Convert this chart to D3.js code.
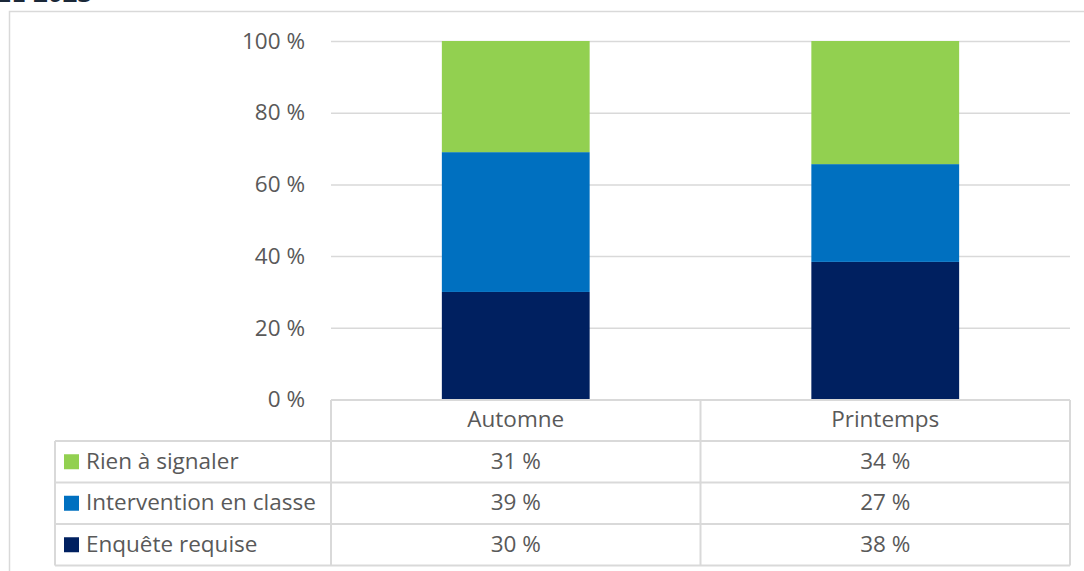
<!DOCTYPE html>
<html>
<head>
    <meta charset="utf-8">
    <style>
        body { margin: 0; background: #fff; }
        svg text {
            font-family: "Open Sans", sans-serif;
            fill: #595959;
        }
        .grid line { stroke: #d9d9d9; stroke-width: 1.5; }
        .grid .domain { display: none; }
        .yaxis .domain, .yaxis line { display: none; }
        .yaxis text { font-size: 22.5px; }
        .tbl line { stroke: #d9d9d9; stroke-width: 2; }
        .tbl text { font-size: 22.5px; }
        .title { font-weight: bold; font-size: 26px; fill: #1b2838; }
    </style>
    <script src="https://d3js.org/d3.v7.min.js"></script>
</head>
<body>
    <svg width="1084" height="571"></svg>
    <script>
        // data
        var seasons = ["Automne", "Printemps"];
        var seriesNames = ["Rien à signaler", "Intervention en classe", "Enquête requise"];
        var rien = [31, 34];
        var intervention = [39, 27];
        var enquete = [30, 38];
        var yTicks = [0, 20, 40, 60, 80, 100];
        var colors = ["#92d050", "#0070c0", "#002060"];

        var svg = d3.select("svg");

        // cut-off title at the very top
        svg.append("text").attr("class", "title")
           .attr("x", -3).attr("y", 2).text("ÉE 2023");

        // outer frame of the chart
        svg.append("path")
           .attr("d", "M9.5,571 V11.5 H1084")
           .attr("fill", "none").attr("stroke", "#d9d9d9").attr("stroke-width", 1.5);

        var plotLeft = 331, plotRight = 1070, plotTop = 41, plotBottom = 399.5;

        var x = d3.scaleBand().domain(seasons).range([plotLeft, plotRight])
                  .paddingInner(0.6).paddingOuter(0.3);
        var y = d3.scaleLinear().domain([0, 100]).range([plotBottom, plotTop]);

        var rows = seasons.map(function(s, i) {
            return { season: s, enquete: enquete[i], intervention: intervention[i], rien: rien[i] };
        });
        var keys = ["enquete", "intervention", "rien"];
        var keyColor = { rien: colors[0], intervention: colors[1], enquete: colors[2] };

        var stacked = d3.stack().keys(keys).offset(d3.stackOffsetExpand)(rows);

        svg.append("g").attr("class", "grid")
           .attr("transform", "translate(" + plotLeft + ",0)")
           .call(d3.axisLeft(y).tickValues(yTicks).tickSize(-(plotRight - plotLeft)).tickFormat(""));

        svg.append("g").attr("class", "yaxis")
           .attr("transform", "translate(" + plotLeft + ",0)")
           .call(d3.axisLeft(y).tickValues(yTicks).tickSize(0).tickPadding(26)
                   .tickFormat(function(d) { return d + " %"; }));

        svg.append("g").selectAll("g")
           .data(stacked).enter().append("g")
           .attr("fill", function(d) { return keyColor[d.key]; })
           .selectAll("rect")
           .data(function(d) { return d; })
           .enter().append("rect")
           .attr("x", function(d) { return x(d.data.season); })
           .attr("width", x.bandwidth())
           .attr("y", function(d) { return y(d[1] * 100); })
           .attr("height", function(d) { return y(d[0] * 100) - y(d[1] * 100); });

        // data table under the chart
        var tbl = svg.append("g").attr("class", "tbl");
        var tLeft = 55, headTop = 400;
        var rowTops = [441, 482.5, 524, 565.5];
        var colEdges = [plotLeft, (plotLeft + plotRight) / 2, plotRight];
        var tableVals = [rien, intervention, enquete];

        // horizontal lines
        tbl.append("line").attr("x1", plotLeft).attr("x2", plotRight).attr("y1", headTop).attr("y2", headTop);
        rowTops.forEach(function(yy) {
            tbl.append("line").attr("x1", tLeft).attr("x2", plotRight).attr("y1", yy).attr("y2", yy);
        });
        // vertical lines
        tbl.append("line").attr("x1", tLeft).attr("x2", tLeft).attr("y1", rowTops[0]).attr("y2", rowTops[3]);
        colEdges.forEach(function(xx) {
            tbl.append("line").attr("x1", xx).attr("x2", xx).attr("y1", headTop).attr("y2", rowTops[3]);
        });

        // header
        tbl.selectAll(".head").data(seasons).enter().append("text")
           .attr("x", function(d) { return x(d) + x.bandwidth() / 2; })
           .attr("y", (headTop + rowTops[0]) / 2)
           .attr("dy", "0.28em").attr("text-anchor", "middle")
           .text(function(d) { return d; });

        // legend + values
        seriesNames.forEach(function(name, r) {
            var cy = (rowTops[r] + rowTops[r + 1]) / 2;
            tbl.append("rect").attr("x", 64).attr("y", cy - 7.5)
               .attr("width", 15).attr("height", 15).attr("fill", colors[r]);
            tbl.append("text").attr("x", 86).attr("y", cy).attr("dy", "0.3em").text(name);
            seasons.forEach(function(s, c) {
                tbl.append("text")
                   .attr("x", x(s) + x.bandwidth() / 2)
                   .attr("y", cy).attr("dy", "0.3em").attr("text-anchor", "middle")
                   .text(tableVals[r][c] + " %");
            });
        });
    </script>
</body>
</html>
